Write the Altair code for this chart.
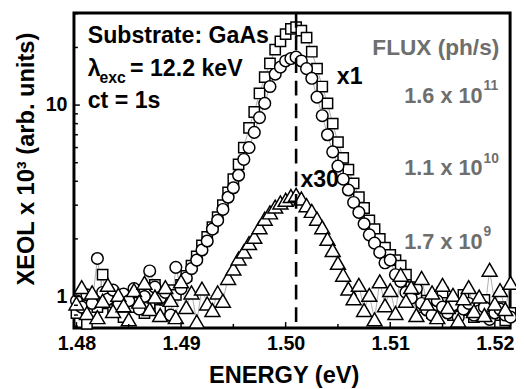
import altair as alt
import pandas as pd

# ---------------- data ----------------
energy = [
    1.4800, 1.4805, 1.4810, 1.4815, 1.4820, 1.4825, 1.4830, 1.4835, 1.4840, 1.4845,
    1.4850, 1.4855, 1.4860, 1.4865, 1.4870, 1.4875, 1.4880, 1.4885, 1.4890, 1.4895,
    1.4900, 1.4905, 1.4910, 1.4915, 1.4920, 1.4925, 1.4930, 1.4935, 1.4940, 1.4945,
    1.4950, 1.4955, 1.4960, 1.4965, 1.4970, 1.4975, 1.4980, 1.4985, 1.4990, 1.4995,
    1.5000, 1.5005, 1.5010, 1.5015, 1.5020, 1.5025, 1.5030, 1.5035, 1.5040, 1.5045,
    1.5050, 1.5055, 1.5060, 1.5065, 1.5070, 1.5075, 1.5080, 1.5085, 1.5090, 1.5095,
    1.5100, 1.5105, 1.5110, 1.5115, 1.5120, 1.5125, 1.5130, 1.5135, 1.5140, 1.5145,
    1.5150, 1.5155, 1.5160, 1.5165, 1.5170, 1.5175, 1.5180, 1.5185, 1.5190, 1.5195,
    1.5200, 1.5205, 1.5210, 1.5215,
]

# circles: flux 1.6 x 10^11 (x1)
flux_1p6e11 = [
    0.95, 0.88, 1.02, 0.92, 1.58, 1.05, 0.97, 1.08, 0.90, 1.03,
    0.95, 1.10, 0.86, 1.00, 1.36, 1.12, 0.98, 1.05, 0.80, 1.42,
    1.10, 1.25, 1.40, 1.55, 1.75, 1.95, 2.25, 2.50, 2.85, 3.30,
    3.70, 4.30, 5.20, 6.00, 7.20, 8.60, 10.2, 12.5, 14.5, 15.8,
    17.0, 17.5, 17.8, 17.0, 15.5, 13.8, 11.0, 8.80, 7.00, 5.70,
    4.80, 4.10, 3.60, 3.10, 2.75, 2.40, 2.10, 1.90, 1.70, 1.50,
    1.55, 1.30, 1.20, 1.05, 0.98, 1.10, 0.92, 0.85, 0.80, 0.95,
    0.88, 0.82, 0.90, 0.78, 0.86, 0.92, 0.80, 0.84, 0.88, 0.76,
    0.82, 0.86, 0.80, 0.78,
]

# squares: flux 1.1 x 10^10 (x1)
flux_1p1e10 = [
    0.82, 0.90, 0.72, 0.98, 0.88, 1.30, 0.92, 0.85, 1.00, 0.78,
    0.95, 0.88, 1.05, 0.82, 0.92, 1.15, 0.85, 0.96, 1.08, 1.02,
    1.15, 1.28, 1.45, 1.62, 1.85, 2.05, 2.30, 2.60, 3.00, 3.50,
    4.10, 4.90, 6.00, 7.60, 9.20, 11.5, 14.0, 16.5, 19.5, 21.5,
    23.5, 25.0, 25.5, 24.5, 22.5, 19.0, 15.5, 12.5, 10.2, 8.00,
    6.40, 5.30, 4.60, 3.90, 3.30, 2.90, 2.50, 2.25, 2.00, 1.80,
    1.65, 1.55, 1.45, 1.30, 1.12, 1.00, 0.88, 0.95, 0.82, 0.90,
    1.05, 0.86, 0.80, 0.92, 1.02, 0.85, 0.78, 0.90, 0.96, 0.84,
    0.80, 0.88, 0.75, 0.82,
]

# triangles: flux 1.7 x 10^9 (x30)
flux_1p7e9 = [
    0.92, 1.12, 0.82, 1.05, 0.78, 0.95, 1.15, 0.84, 1.02, 0.90,
    0.76, 1.08, 0.94, 1.18, 0.86, 1.00, 0.80, 1.12, 0.96, 0.78,
    1.20, 0.88, 1.05, 0.74, 1.10, 0.92, 0.85, 1.05, 0.95, 1.25,
    1.40, 1.58, 1.72, 1.90, 2.05, 2.30, 2.55, 2.75, 2.95, 3.10,
    3.20, 3.35, 3.40, 3.25, 3.00, 2.80, 2.55, 2.30, 2.00, 1.75,
    1.50, 1.30, 1.10, 0.98, 1.15, 0.85, 1.02, 0.76, 1.20, 0.90,
    1.08, 0.82, 1.30, 0.95, 1.12, 0.80, 1.25, 0.92, 1.05, 0.78,
    1.15, 0.88, 1.02, 0.75, 0.98, 1.12, 0.84, 1.00, 0.80, 1.38,
    0.92, 1.08, 0.86, 1.18,
]

peak_energy = [1.5010]
x_major = [1.48, 1.49, 1.50, 1.51, 1.52]
x_minor = [1.485, 1.495, 1.505, 1.515]
y_major = [1, 10]
y_minor = [0.7, 0.8, 0.9, 2, 3, 4, 5, 6, 7, 8, 9, 20, 30]

# ---------------- chart ----------------
FONT = "Liberation Sans"
W, H = 443, 320
GREY = "#6e6e6e"

x_scale = alt.Scale(domain=[1.47976, 1.52146], nice=False, zero=False)
y_scale = alt.Scale(type="log", domain=[0.685, 30.3], nice=False)

x_axis = alt.Axis(
    values=x_major, format=".2f", title="ENERGY (eV)", grid=False, domain=False,
    ticks=False, labelPadding=6, labelFlush=False, labelOverlap=False,
    titleX=213, titleY=55, titleBaseline="alphabetic", titleAlign="center",
)
y_axis = alt.Axis(
    values=y_major, format="d", title="XEOL x 10³ (arb. units)", grid=False,
    domain=False, ticks=False, labelPadding=7, labelFlush=False,
    titleX=-48, titleY=148, titleAngle=270, titleAlign="center",
    titleBaseline="middle",
)

X = alt.X("energy:Q", scale=x_scale, axis=x_axis)
Y = alt.Y("xeol:Q", scale=y_scale, axis=y_axis)

df_c = pd.DataFrame({"energy": energy, "xeol": flux_1p6e11})
df_s = pd.DataFrame({"energy": energy, "xeol": flux_1p1e10})
df_t = pd.DataFrame({"energy": energy, "xeol": flux_1p7e9})

def thin_line(df):
    return alt.Chart(df).mark_line(color="#8a8a8a", strokeWidth=0.7, clip=False).encode(x=X, y=Y)

def points(df, shape, size):
    return alt.Chart(df).mark_point(
        shape=shape, size=size, filled=True, fill="white", stroke="black",
        strokeWidth=1.5, opacity=1, clip=False,
    ).encode(x=X, y=Y)

dash = alt.Chart(pd.DataFrame({"energy": peak_energy})).mark_rule(
    color="black", strokeWidth=2.6, strokeDash=[15, 8]
).encode(x=X, y=alt.value(0), y2=alt.value(H))

def yticks(vals, length):
    return alt.Chart(pd.DataFrame({"xeol": vals})).mark_rule(
        color="black", strokeWidth=1.5
    ).encode(y=Y, x=alt.value(0), x2=alt.value(length))

def xticks(vals, length):
    return alt.Chart(pd.DataFrame({"energy": vals})).mark_rule(
        color="black", strokeWidth=1.5
    ).encode(x=X, y=alt.value(H), y2=alt.value(H - length))

one = pd.DataFrame({"k": [0]})

def label(txt, x, y, size=23.5, color="black", align="left"):
    return alt.Chart(one).mark_text(
        font=FONT, fontWeight="bold", fontSize=size, color=color, align=align,
        baseline="alphabetic",
    ).encode(x=alt.value(x), y=alt.value(y), text=alt.value(txt))

labels = [
    label("Substrate: GaAs", 14, 31),
    label("λ", 14, 64),
    label("exc", 26, 71, size=16),
    label("= 12.2 keV", 57, 64),
    label("ct = 1s", 14, 97),
    label("x1", 267, 72),
    label("x30", 230, 177),
    label("FLUX (ph/s)", 432, 43, size=23, color=GREY, align="right"),
    label("1.6 x 10", 415, 91, size=22, color=GREY, align="right"),
    label("11", 416, 78, size=14, color=GREY),
    label("1.1 x 10", 415, 165, size=22, color=GREY, align="right"),
    label("10", 416, 152, size=14, color=GREY),
    label("1.7 x 10", 415, 240, size=22, color=GREY, align="right"),
    label("9", 416, 227, size=14, color=GREY),
]

chart = alt.layer(
    thin_line(df_s), thin_line(df_c), thin_line(df_t),
    points(df_s, "square", 110),
    points(df_c, "circle", 140),
    points(df_t, "triangle-up", 230),
    dash,
    yticks(y_major, 6), yticks(y_minor, 4),
    xticks(x_major, 6), xticks(x_minor, 4),
    *labels,
).properties(
    width=W, height=H,
    padding={"left": 67, "top": 2, "right": 6, "bottom": 59},
    autosize=alt.AutoSizeParams(type="none"),
).configure_view(
    stroke="black", strokeWidth=3
).configure_axis(
    labelFont=FONT, labelFontWeight="bold", labelFontSize=20, labelColor="black",
    titleFont=FONT, titleFontWeight="bold", titleFontSize=24, titleColor="black",
)

chart.save("out.html", embed_options={"renderer": "svg", "actions": False})
